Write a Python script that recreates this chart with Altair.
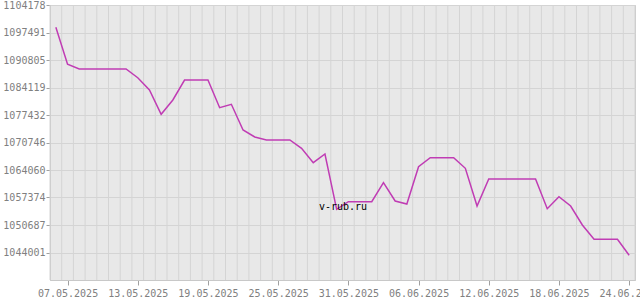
import altair as alt
import pandas as pd

# day index 0 = 06.05.2025
day_index = list(range(50))
values = [
    1098756, 1089760, 1088617, 1088617, 1088617, 1088617, 1088617, 1086502, 1083511, 1077603,
    1081080, 1085942, 1085942, 1085942, 1079207, 1080034, 1073785, 1072084, 1071354, 1071354,
    1071354, 1069336, 1065835, 1067950, 1054504, 1056352, 1056352, 1056352, 1060972, 1056523,
    1055793, 1064862, 1067051, 1067051, 1067051, 1064473, 1055307, 1061872, 1061872, 1061872,
    1061872, 1061872, 1054650, 1057568, 1055307, 1050687, 1047210, 1047210, 1047210, 1043320,
]
x_tick_index = [1, 7, 13, 19, 25, 31, 37, 43, 49]
x_tick_labels = ["07.05.2025", "13.05.2025", "19.05.2025", "25.05.2025", "31.05.2025",
                 "06.06.2025", "12.06.2025", "18.06.2025", "24.06.2025"]
y_ticks = [1044001, 1050687, 1057374, 1064060, 1070746, 1077432, 1084119, 1090805, 1097491, 1104178]
grid_x = [i - 0.5 for i in range(51)]
watermark = "v-rub.ru"

df = pd.DataFrame({"d": day_index, "v": values})
gdf = pd.DataFrame({"g": grid_x})

label_expr = ("[" + ",".join("'%s'" % s for s in x_tick_labels) + "][indexof(["
              + ",".join(str(i) for i in x_tick_index) + "], datum.value)]")

xscale = alt.Scale(domain=[-0.5, 49.5], nice=False, zero=False)
yscale = alt.Scale(domain=[1037315, 1104178], nice=False, zero=False)

font = "DejaVu Sans Mono"

xaxis = alt.Axis(values=x_tick_index, labelExpr=label_expr, grid=False,
                 labelFont=font, labelFontSize=10, labelColor="#808080",
                 tickColor="#a0a0a0", tickSize=5, domainColor="#c8c8c8",
                 labelOverlap=False, labelPadding=3, labelFlush=False)

grid = alt.Chart(gdf).mark_rule(color="#d4d4d4", strokeWidth=1).encode(
    x=alt.X("g:Q", scale=xscale, title=None, axis=xaxis)
)

line = alt.Chart(df).mark_line(color="#c03cb4", strokeWidth=1.5).encode(
    x=alt.X("d:Q", scale=xscale, title=None, axis=xaxis),
    y=alt.Y("v:Q", scale=yscale, title=None,
            axis=alt.Axis(values=y_ticks, format="d", grid=True, gridColor="#d4d4d4",
                          labelFont=font, labelFontSize=10, labelColor="#808080",
                          tickColor="#a0a0a0", tickSize=4, domainColor="#c8c8c8",
                          labelOverlap=False, labelPadding=1)),
)

text = alt.Chart(pd.DataFrame({"t": [watermark]})).mark_text(
    font=font, fontSize=10, color="#000000", align="center", baseline="middle"
).encode(x=alt.value(293), y=alt.value(202), text="t:N")

chart = alt.layer(grid, line, text).properties(
    width=585, height=275,
    autosize=alt.AutoSizeParams(type="none"),
    padding={"left": 50, "top": 5, "right": 5, "bottom": 20},
).configure_view(fill="#e8e8e8", stroke="#c8c8c8")

chart.save("out.html", embed_options={"renderer": "svg", "actions": False})
